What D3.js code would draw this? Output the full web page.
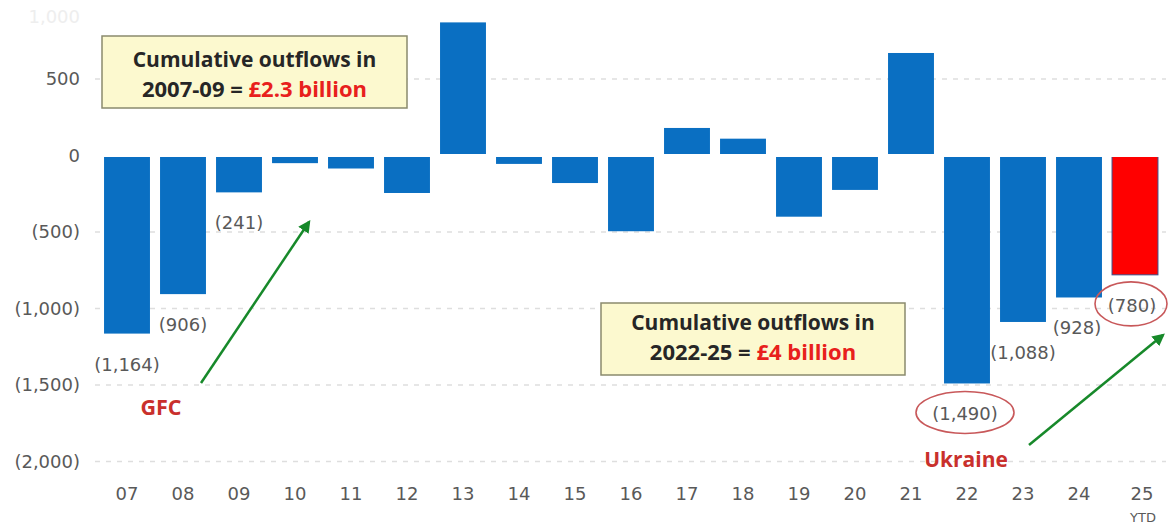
<!DOCTYPE html>
<html lang="en">
<head>
<meta charset="UTF-8">
<title>Net flows by year</title>
<script src="https://cdn.jsdelivr.net/npm/d3@7"></script>
<style>
    body { margin: 0; background: #fff; }
    svg text { font-family: "DejaVu Sans", Verdana, sans-serif; }
    .note { font-family: "Open Sans", Lato, sans-serif; font-weight: bold; }
</style>
</head>
<body>
<svg id="chart" width="1168" height="524"></svg>
<script>
// data
var years = ["07","08","09","10","11","12","13","14","15","16","17","18","19","20","21","22","23","24","25"];
var flows = [-1164, -906, -241, -50, -85, -245, 870, -55, -180, -495, 180, 110, -400, -225, 670, -1490, -1088, -928, -780];
var labelled = ["07","08","09","22","23","24","25"];
var circled = ["22","25"];
var yTicks = [1000, 500, 0, -500, -1000, -1500, -2000];

var svg = d3.select("#chart");

var x = d3.scaleBand().domain(years).range([99, 1163]).paddingInner(0.18).paddingOuter(0.09);
var y = d3.scaleLinear().domain([-2000, 1000]).range([461.5, 2.5]);

function fmt(v) {
    var s = d3.format(",")(Math.abs(v));
    return v < 0 ? "(" + s + ")" : s;
}
function mid(d) { return x(d) + x.bandwidth() / 2; }
function val(d) { return flows[years.indexOf(d)]; }

// dashed grid lines (top one is cut off in the picture)
svg.append("g").selectAll("line")
    .data(yTicks.filter(function (d) { return d !== 0 && d !== 1000; }))
    .join("line")
    .attr("x1", 95).attr("x2", 1166)
    .attr("y1", function (d) { return y(d); })
    .attr("y2", function (d) { return y(d); })
    .attr("stroke", "#dedede")
    .attr("stroke-width", 1.3)
    .attr("stroke-dasharray", "5,6");

// y axis
var yAxis = svg.append("g")
    .attr("transform", "translate(82,0)")
    .call(d3.axisLeft(y).tickValues(yTicks).tickFormat(fmt).tickSize(0).tickPadding(2));
yAxis.select(".domain").remove();
yAxis.selectAll("text").attr("font-size", 18).attr("fill", "#595959")
    .style("font-family", "DejaVu Sans");
// the 1,000 label is washed out at the top edge
yAxis.selectAll(".tick").filter(function (d) { return d === 1000; })
    .select("text").attr("dy", "1.1em").attr("fill", "#eeeeee");

// bars
svg.append("g").selectAll("rect")
    .data(years)
    .join("rect")
    .attr("x", function (d) { return x(d); })
    .attr("width", x.bandwidth())
    .attr("y", function (d) { return y(Math.max(0, val(d))); })
    .attr("height", function (d) { return Math.abs(y(val(d)) - y(0)); })
    .attr("fill", function (d) { return d === "25" ? "#ff0000" : "#0a6fc2"; })
    .attr("stroke", function (d) { return d === "25" ? "#3b4f8a" : "none"; })
    .attr("stroke-width", 1);

// zero gap
svg.append("line")
    .attr("x1", 95).attr("x2", 1166)
    .attr("y1", y(0)).attr("y2", y(0))
    .attr("stroke", "#fff").attr("stroke-width", 3);

// x axis
var xAxis = svg.append("g")
    .attr("transform", "translate(0,485)")
    .call(d3.axisBottom(x).tickSize(0).tickPadding(2));
xAxis.select(".domain").remove();
xAxis.selectAll("text").attr("font-size", 18).attr("fill", "#595959")
    .style("font-family", "DejaVu Sans");
xAxis.selectAll(".tick").filter(function (d) { return d === "25"; })
    .select("text").attr("dx", 7);
svg.append("text")
    .attr("x", mid("25") + 8).attr("y", 522)
    .attr("text-anchor", "middle").attr("font-size", 13).attr("fill", "#595959")
    .text("YTD");

// value labels under selected bars
var labelShift = { "07": 0, "08": 0, "09": 0, "22": -2, "23": 0, "24": -2, "25": -3 };
svg.append("g").selectAll("text")
    .data(labelled)
    .join("text")
    .attr("x", function (d) { return mid(d) + labelShift[d]; })
    .attr("y", function (d) { return y(val(d)) + 37; })
    .attr("text-anchor", "middle")
    .attr("font-size", 18)
    .attr("fill", "#595959")
    .text(function (d) { return fmt(val(d)); });

// red ellipses
var ellipseSize = { "22": [49, 21, -2], "25": [36, 22, -4] };
svg.append("g").selectAll("ellipse")
    .data(circled)
    .join("ellipse")
    .attr("cx", function (d) { return mid(d) + ellipseSize[d][2]; })
    .attr("cy", function (d) { return y(val(d)) + 29; })
    .attr("rx", function (d) { return ellipseSize[d][0]; })
    .attr("ry", function (d) { return ellipseSize[d][1]; })
    .attr("fill", "none")
    .attr("stroke", "#c8585a")
    .attr("stroke-width", 1.6);

// green arrows
svg.append("defs").append("marker")
    .attr("id", "head").attr("viewBox", "0 0 10 10")
    .attr("refX", 8).attr("refY", 5)
    .attr("markerWidth", 5).attr("markerHeight", 5)
    .attr("orient", "auto")
    .append("path").attr("d", "M0,0L10,5L0,10z").attr("fill", "#17892a");

var arrows = [[201, 383, 309, 222], [1029, 445, 1163, 335]];
svg.append("g").selectAll("line")
    .data(arrows)
    .join("line")
    .attr("x1", function (d) { return d[0]; }).attr("y1", function (d) { return d[1]; })
    .attr("x2", function (d) { return d[2]; }).attr("y2", function (d) { return d[3]; })
    .attr("stroke", "#17892a").attr("stroke-width", 2.5)
    .attr("marker-end", "url(#head)");

// event labels
svg.append("text").attr("class", "note")
    .attr("x", 161).attr("y", 415).attr("text-anchor", "middle")
    .attr("font-size", 21.5).attr("fill", "#c9302c").text("GFC");
svg.append("text").attr("class", "note")
    .attr("x", 966).attr("y", 467).attr("text-anchor", "middle")
    .attr("font-size", 21).attr("fill", "#c9302c").text("Ukraine");

// annotation boxes
var boxes = [
    { x: 102, y: 36, w: 305, h: 72, l1: 31, l2: 61, line2: "2007-09 = ", red: "£2.3 billion" },
    { x: 601, y: 303, w: 304, h: 72, l1: 27, l2: 57, line2: "2022-25 = ", red: "£4 billion" }
];
boxes.forEach(function (b) {
    var g = svg.append("g");
    g.append("rect")
        .attr("x", b.x).attr("y", b.y).attr("width", b.w).attr("height", b.h)
        .attr("fill", "#fcf9cf").attr("stroke", "#8a8a6e").attr("stroke-width", 1.5);
    g.append("text").attr("class", "note")
        .attr("x", b.x + b.w / 2).attr("y", b.y + b.l1)
        .attr("text-anchor", "middle").attr("font-size", 21).attr("fill", "#262626")
        .text("Cumulative outflows in");
    var t = g.append("text").attr("class", "note")
        .attr("x", b.x + b.w / 2).attr("y", b.y + b.l2)
        .attr("text-anchor", "middle").attr("font-size", 22).attr("fill", "#262626");
    t.append("tspan").text(b.line2);
    t.append("tspan").attr("fill", "#e8201c").text(b.red);
});
</script>
</body>
</html>
